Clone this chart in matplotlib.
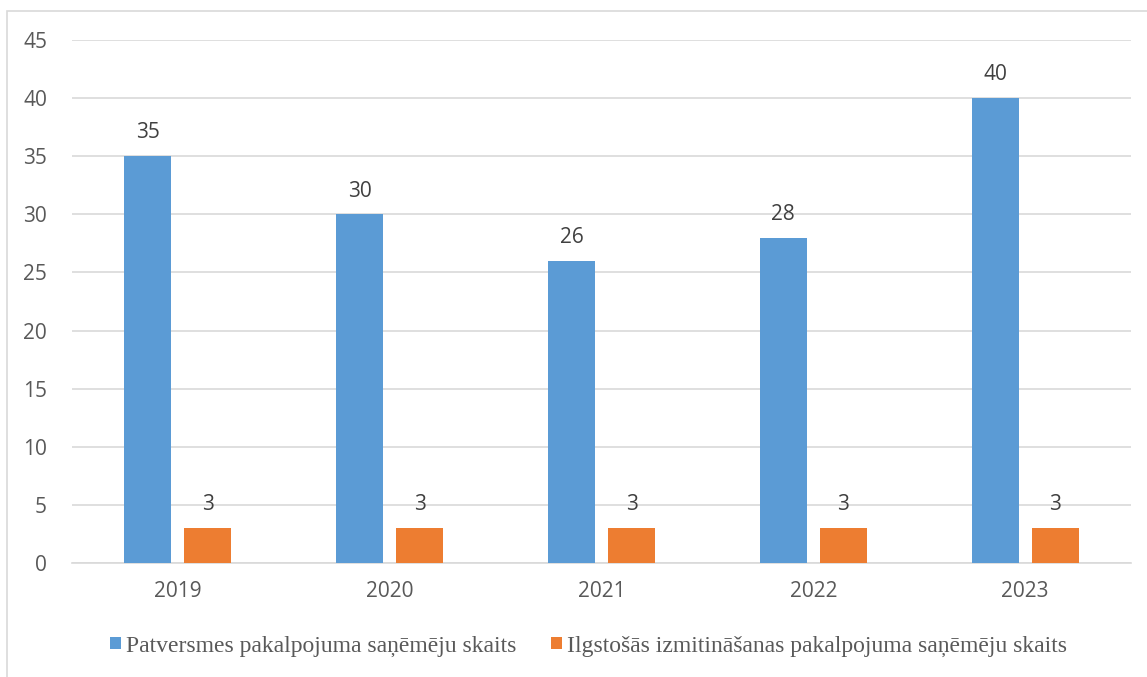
import numpy as np
import matplotlib.pyplot as plt
from matplotlib.patches import Rectangle

years = ['2019', '2020', '2021', '2022', '2023']
shelter = [35, 30, 26, 28, 40]
long_term = [3, 3, 3, 3, 3]
series_names = ['Patversmes pakalpojuma saņēmēju skaits',
                'Ilgstošās izmitināšanas pakalpojuma saņēmēju skaits']

blue = '#5B9BD5'
orange = '#ED7D31'
text_col = '#404040'
tick_col = '#595959'

fig = plt.figure(figsize=(11.47, 6.77), dpi=100)
ax = fig.add_axes([72 / 1147, 1 - 563 / 677, (1131 - 72) / 1147, (563 - 40) / 677])

# chart border (Excel-style frame)
fig.add_artist(Rectangle((7 / 1147, -0.1), 1.2, 1 - 11 / 677 + 0.1, transform=fig.transFigure,
                         fill=False, edgecolor='#D9D9D9', linewidth=1.2))

x = np.arange(len(years))
w = 0.222
off = 0.142
b1 = ax.bar(x - off, shelter, w, color=blue, label=series_names[0], zorder=3)
b2 = ax.bar(x + off, long_term, w, color=orange, label=series_names[1], zorder=3)

for bars in (b1, b2):
    for r in bars:
        ax.text(r.get_x() + r.get_width() / 2, r.get_height() + 1.1, f'{int(r.get_height())}',
                ha='center', va='bottom', fontsize=15, color=text_col, family='Open Sans')

ax.set_xlim(-0.5, 4.5)
ax.set_ylim(0, 45)
ax.set_yticks(range(0, 46, 5))
ax.set_xticks(x)
ax.set_xticklabels(years)
ax.yaxis.grid(True, color='#D9D9D9', linewidth=1.2, zorder=0)
for s in ['top', 'right', 'left']:
    ax.spines[s].set_visible(False)
ax.spines['bottom'].set_color('#D9D9D9')
ax.spines['bottom'].set_linewidth(1.2)
ax.tick_params(length=0, labelsize=15, colors=tick_col, pad=13)
ax.tick_params(axis='y', pad=18)
for lbl in ax.get_xticklabels() + ax.get_yticklabels():
    lbl.set_family('Open Sans')

leg = fig.legend(loc='center', bbox_to_anchor=(0.513, 1 - 646 / 677), ncol=2, frameon=False,
                 prop={'family': 'Liberation Serif', 'size': 17}, handlelength=0.45,
                 handleheight=0.45, handletextpad=0.2, columnspacing=1.5)
for t in leg.get_texts():
    t.set_color(tick_col)

fig.savefig('out.png', dpi=100)
